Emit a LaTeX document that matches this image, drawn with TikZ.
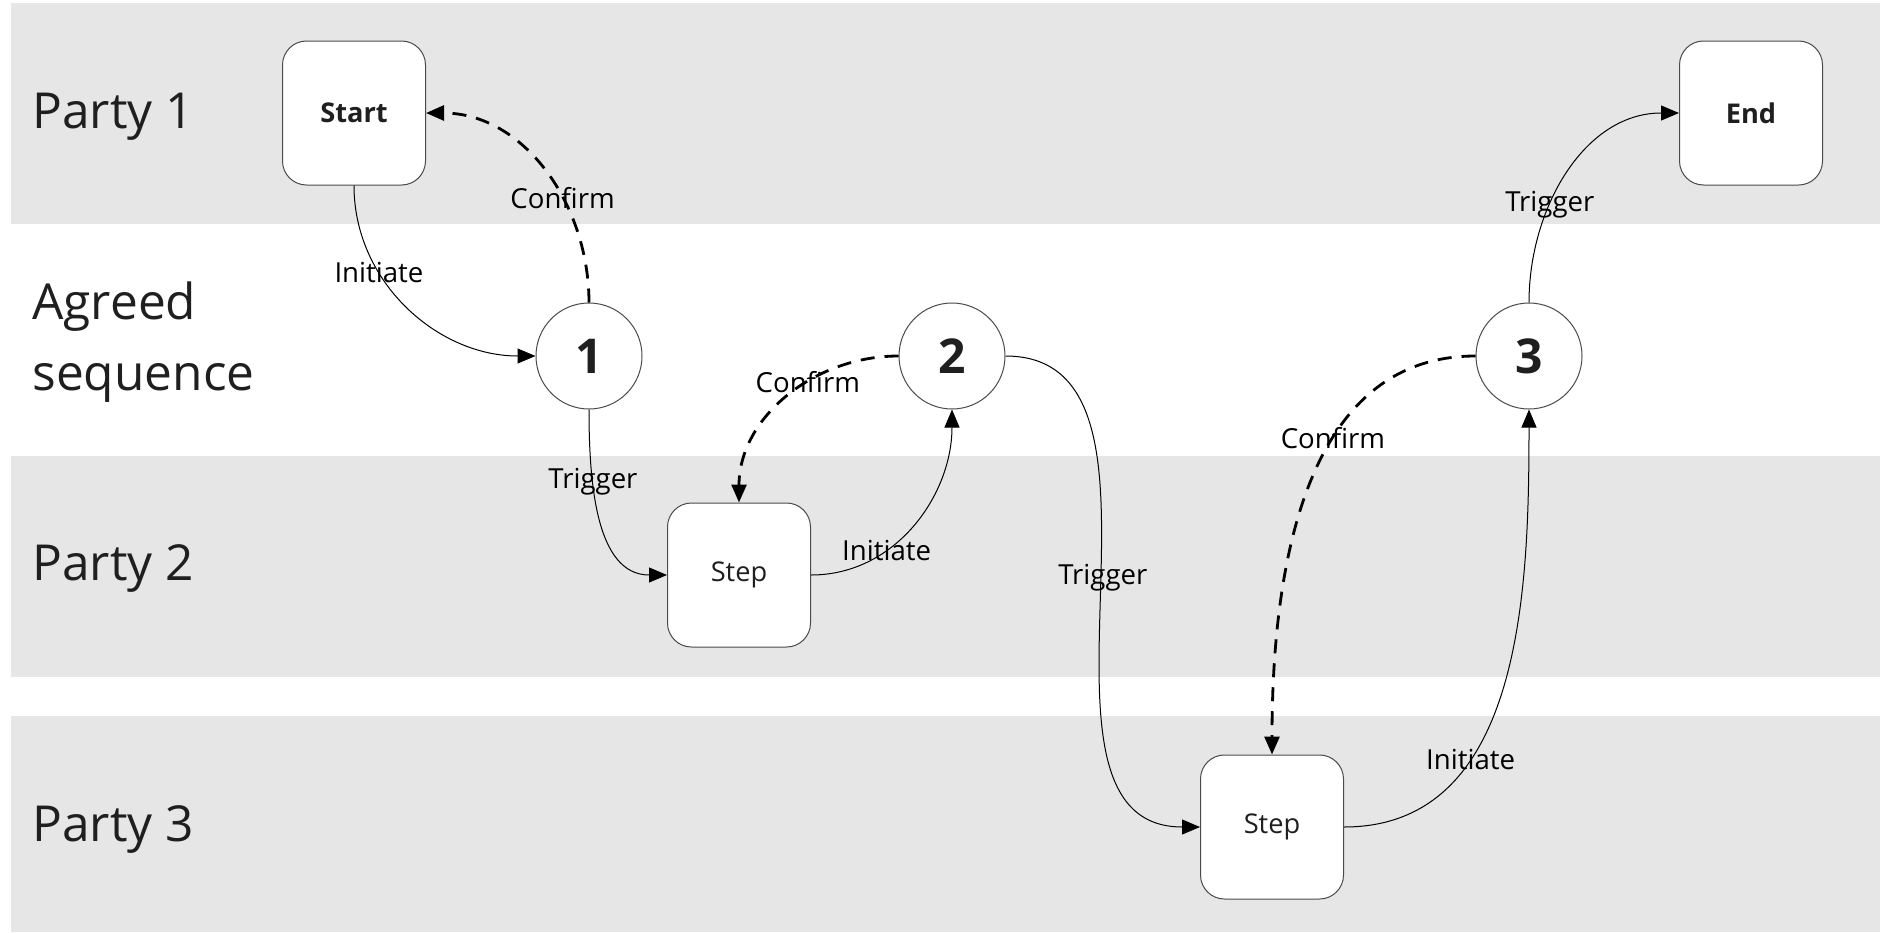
\documentclass[tikz,border=0pt]{standalone}
\usepackage{fontspec}
\setmainfont{Open Sans}
\usetikzlibrary{arrows.meta}
\definecolor{band}{HTML}{E6E6E6}
\definecolor{ink}{HTML}{1F1F1F}
\definecolor{rim}{HTML}{4A4A4A}
\begin{document}
\begin{tikzpicture}[x=0.5pt,y=-0.5pt,
  lane/.style={fill=band, draw=none},
  lanelabel/.style={anchor=west, inner sep=0, text=ink, font=\fontsize{24.8}{35.5}\selectfont, align=left},
  box/.style={draw=rim, line width=0.5pt, fill=white, rounded corners=12pt, minimum width=71.5pt, minimum height=72pt, inner sep=0, text=ink, font=\fontsize{13.6}{15}\selectfont},
  seq/.style={draw=rim, line width=0.5pt, fill=white, circle, minimum size=53pt, inner sep=0, text=ink, font=\bfseries\fontsize{24}{28}\selectfont},
  flow/.style={draw=black, line width=0.5pt, -{Triangle[length=9pt,width=7.5pt]}},
  backflow/.style={flow, line width=1.4pt, dash pattern=on 7pt off 5pt},
  elabel/.style={font=\fontsize{13.8}{15}\selectfont, text=black, inner sep=0}
]
\useasboundingbox[fill=white] (0,0) rectangle (1880,932);
\fill[lane] (11,3) rectangle (1880,224);
\fill[lane] (11,456) rectangle (1880,677);
\fill[lane] (11,716) rectangle (1880,932);

\node[lanelabel] (l1) at (32,117) {Party 1};
\node[lanelabel] (l0) at (32,342) {Agreed\\sequence};
\node[lanelabel] (l2) at (32,568) {Party 2};
\node[lanelabel] (l3) at (32,829) {Party 3};

\node[box, font=\bfseries\fontsize{13.6}{15}\selectfont] (start) at (354,113) {Start};
\node[box, font=\bfseries\fontsize{13.6}{15}\selectfont] (finish) at (1751,113) {End};
\node[seq] (s1) at (589,356) {1};
\node[seq] (s2) at (952,356) {2};
\node[seq] (s3) at (1529,356) {3};
\node[box] (stepA) at (739,575) {Step};
\node[box] (stepB) at (1272,827) {Step};

\draw[flow] (start.south) to[out=-90,in=180] node[elabel,pos=0.33] {Initiate} (s1.west);
\draw[backflow] (s1.north) to[out=90,in=0] node[elabel,pos=0.38] {Confirm} (start.east);
\draw[flow] (s1.south) to[out=-90,in=180] node[elabel,pos=0.32] {Trigger} (stepA.west);
\draw[flow] (stepA.east) to[out=0,in=-90] node[elabel,pos=0.34] {Initiate} (s2.south);
\draw[backflow] (s2.west) to[out=180,in=90] node[elabel,pos=0.39] {Confirm} (stepA.north);
\draw[flow] (s2.east) to[out=0,in=180] node[elabel,pos=0.48] {Trigger} (stepB.west);
\draw[flow] (stepB.east) to[out=0,in=-90] node[elabel,pos=0.33] {Initiate} (s3.south);
\draw[backflow] (s3.west) to[out=180,in=90] node[elabel,pos=0.38] {Confirm} (stepB.north);
\draw[flow] (s3.north) to[out=90,in=180] node[elabel,pos=0.36] {Trigger} (finish.west);
\end{tikzpicture}
\end{document}
